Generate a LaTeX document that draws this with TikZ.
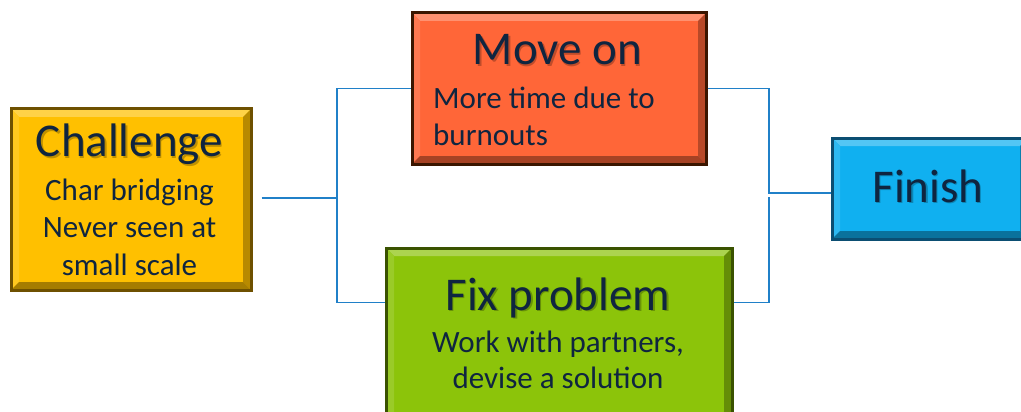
\documentclass[tikz,border=0pt]{standalone}
\usepackage{fontspec}
\setmainfont{Carlito}
\definecolor{txtc}{HTML}{0F2540}
\definecolor{linec}{HTML}{2080C8}
\definecolor{chFill}{HTML}{FFC000}
\definecolor{chEdge}{HTML}{6E5000}
\definecolor{mvFill}{HTML}{FF6638}
\definecolor{mvEdge}{HTML}{3B1600}
\definecolor{fxFill}{HTML}{8CC40A}
\definecolor{fxEdge}{HTML}{3A5200}
\definecolor{fnFill}{HTML}{10B0F0}
\definecolor{fnEdge}{HTML}{0B4E72}
% text with a soft drop shadow in a darkened tone of the panel colour
\newcommand\shadowed[2]{\makebox[0pt][l]{\hspace*{1.3pt}\raisebox{-1.3pt}{\textcolor{#1!75!black}{#2}}}#2}
\begin{document}
\begin{tikzpicture}[x=1pt,y=-1pt,
  panel/.style 2 args={fill=#1, draw=#2, line width=3pt, inner sep=0pt,
    anchor=north west,
    path picture={
      \coordinate (pnw) at (path picture bounding box.north west);
      \coordinate (pne) at (path picture bounding box.north east);
      \coordinate (psw) at (path picture bounding box.south west);
      \coordinate (pse) at (path picture bounding box.south east);
      % bevelled rim: light on top/left, dark on bottom/right
      \fill[#1!72!white] (pnw) -- (pne) -- ([xshift=-8pt,yshift=-8pt]pne)
        -- ([xshift=8pt,yshift=-8pt]pnw) -- cycle;
      \fill[#1!88!white] (pnw) -- (psw) -- ([xshift=8pt,yshift=8pt]psw)
        -- ([xshift=8pt,yshift=-8pt]pnw) -- cycle;
      \fill[#1!72!black] (pne) -- (pse) -- ([xshift=-8pt,yshift=8pt]pse)
        -- ([xshift=-8pt,yshift=-8pt]pne) -- cycle;
      \fill[#1!65!black] (psw) -- (pse) -- ([xshift=-8pt,yshift=8pt]pse)
        -- ([xshift=8pt,yshift=8pt]psw) -- cycle;
    }},
  title/.style={font=\fontsize{47}{50}\selectfont, text=txtc, inner sep=0pt, anchor=base},
  body/.style={font=\fontsize{31}{37}\selectfont, text=txtc, inner sep=0pt, anchor=base},
  link/.style={draw=linec, line width=1.8pt}
]
\useasboundingbox (0,0) rectangle (1021,412);

% boxes
\node[panel={chFill}{chEdge}, minimum width=240pt, minimum height=181pt] (ch) at (9.5,107.5) {};
\node[panel={mvFill}{mvEdge}, minimum width=294pt, minimum height=151pt] (mv) at (410.5,11.5) {};
\node[panel={fxFill}{fxEdge}, minimum width=346pt, minimum height=180pt] (fx) at (384.5,246.5) {};
\node[panel={fnFill}{fnEdge}, minimum width=196pt, minimum height=101pt] (fn) at (830.5,136.5) {};

% texts
\node[title] (chT) at (129.5,157) {\shadowed{chFill}{Challenge}};
\node[body] (chA) at (129.5,200) {Char bridging};
\node[body] (chB) at (129.5,237) {Never seen at};
\node[body] (chC) at (129.5,275) {small scale};

\node[title] (mvT) at (557.5,65) {\shadowed{mvFill}{Move on}};
\node[body, anchor=base west] (mvA) at (433,108) {More time due to};
\node[body, anchor=base west] (mvB) at (433,145) {burnouts};

\node[title] (fxT) at (558,310) {\shadowed{fxFill}{Fix problem}};
\node[body] (fxA) at (558,352) {Work with partners,};
\node[body] (fxB) at (558,388) {devise a solution};

\node[title] (fnT) at (928,202) {\shadowed{fnFill}{Finish}};

% connectors
\coordinate (jl) at (337,198);
\coordinate (jr) at (769,193);
\coordinate (jrLow) at (769,197);
\draw[link] ([xshift=9pt]ch.east |- jl) -- (jl);
\draw[link] (jl) |- (mv.west);
\draw[link] (jl) |- ([yshift=-56pt]fx.north west);
\draw[link] (mv.east) -| (jr) -- (fn.west |- jr);
\draw[link] ([yshift=-56pt]fx.north east) -| (jrLow);
\end{tikzpicture}
\end{document}
